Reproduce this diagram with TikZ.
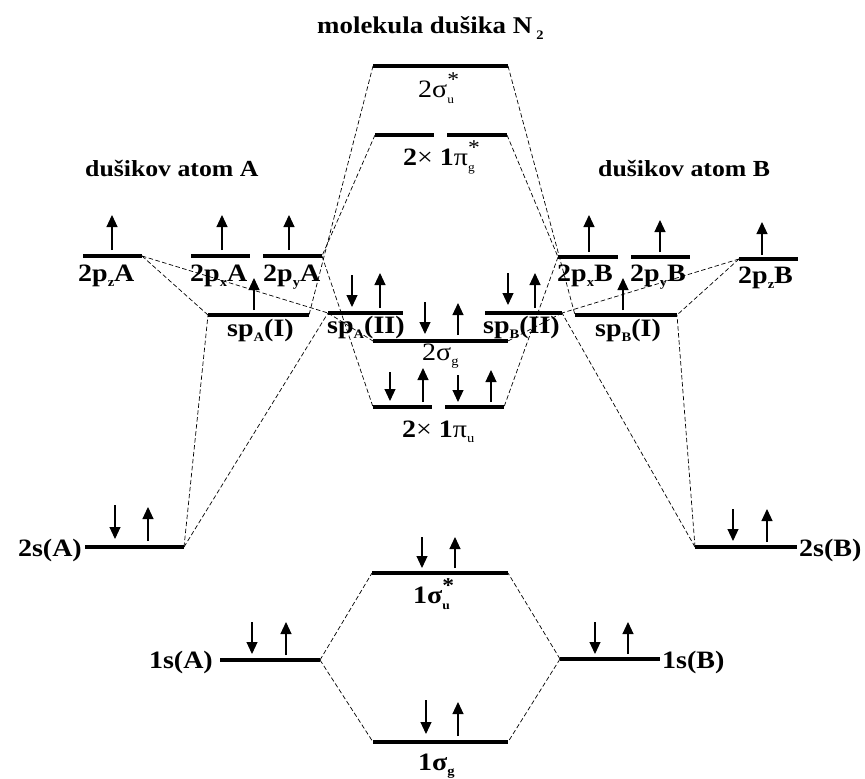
\documentclass[tikz,border=0pt]{standalone}
\usepackage{fontspec}
\setmainfont{Liberation Serif}[FakeStretch=1.12]
\usetikzlibrary{arrows.meta}
\newcommand\mylevel[5]{\coordinate (#1L) at (#2,#4); \coordinate (#1R) at (#3,#4); \draw[#5] (#1L) -- (#1R);}
\newcommand\eup[3]{\draw[el] (#1,#3) -- (#1,#2);}
\newcommand\edn[3]{\draw[el] (#1,#2) -- (#1,#3);}
\newcommand\mysub[1]{\raisebox{-0.22em}{\fontsize{13}{13}\selectfont #1}}
\newcommand\mysupsub[2]{\makebox[0pt][l]{\raisebox{0.42em}{\fontsize{21}{21}\selectfont #1}}\raisebox{-0.25em}{\fontsize{12}{12}\selectfont #2}}
\begin{document}
\begin{tikzpicture}[x=1pt,y=-1pt,
  lev/.style={line width=4.4pt},
  levthin/.style={line width=3.2pt},
  conn/.style={dash pattern=on 4.5pt off 2.5pt, line width=0.7pt},
  el/.style={line width=1.1pt, -{Triangle[width=11pt,length=12pt]}},
  lab/.style={font=\bfseries\fontsize{25}{25}\selectfont, inner sep=0pt, anchor=base west},
  labr/.style={font=\fontsize{25}{25}\selectfont, inner sep=0pt, anchor=base west},
  ttl/.style={font=\bfseries\fontsize{23}{23}\selectfont, inner sep=0pt, anchor=base west}]
\useasboundingbox (0,0) rectangle (865,779);
% levels
\mylevel{sigu2}{373}{508}{66}{lev}
\mylevel{pig1}{375}{434}{135}{lev}
\mylevel{pig2}{447}{507}{135}{lev}
\mylevel{pzA}{83}{142}{256}{lev}
\mylevel{pxA}{191}{250}{256}{lev}
\mylevel{pyA}{263}{322}{256}{lev}
\mylevel{spAI}{208}{309}{315}{lev}
\mylevel{spAII}{328}{403}{313}{lev}
\mylevel{sigg2}{373}{508}{341}{lev}
\mylevel{spBII}{485}{562}{313}{levthin}
\mylevel{pxB}{558}{618}{257}{lev}
\mylevel{pyB}{631}{690}{257}{lev}
\mylevel{pzB}{739}{798}{259}{levthin}
\mylevel{spBI}{575}{677}{315}{lev}
\mylevel{piu1}{373}{432}{407}{lev}
\mylevel{piu2}{445}{504}{407}{lev}
\mylevel{sA}{85}{184}{547}{lev}
\mylevel{sB}{695}{797}{547}{levthin}
\mylevel{sigu1}{372}{508}{573}{lev}
\mylevel{s1A}{220}{320}{660}{lev}
\mylevel{s1B}{560}{660}{659}{levthin}
\mylevel{sigg1}{373}{508}{742}{lev}
% connectors left
\draw[conn] (sigu2L) -- (spAIR);
\draw[conn] (pig1L) -- (pyAR);
\draw[conn] (pyAR) -- (piu1L);
\draw[conn] (pzAR) -- (spAIL);
\draw[conn] (pzAR) -- (spAIIL);
\draw[conn] (sAR) -- (spAIL);
\draw[conn] (sAR) -- (spAIIL);
\draw[conn] (spAIIL) -- (sigg2L);
\draw[conn] (s1AR) -- (sigu1L);
\draw[conn] (s1AR) -- (sigg1L);
% connectors right
\draw[conn] (sigu2R) -- (spBIL);
\draw[conn] (pig2R) -- (pxBL);
\draw[conn] (pxBL) -- (piu2R);
\draw[conn] (pzBL) -- (spBIR);
\draw[conn] (pzBL) -- (spBIIR);
\draw[conn] (sBL) -- (spBIR);
\draw[conn] (sBL) -- (spBIIR);
\draw[conn] (spBIIR) -- (sigg2R);
\draw[conn] (s1BL) -- (sigu1R);
\draw[conn] (s1BL) -- (sigg1R);
% electrons
\eup{112}{215}{250}
\eup{222}{215}{250}
\eup{289}{215}{250}
\eup{254}{278}{310}
\edn{352}{275}{307}
\eup{380}{273}{308}
\edn{425}{302}{334}
\eup{458}{303}{335}
\edn{508}{273}{305}
\eup{535}{273}{308}
\eup{589}{215}{252}
\eup{660}{220}{252}
\eup{762}{222}{255}
\eup{623}{278}{310}
\edn{390}{372}{401}
\eup{423}{368}{402}
\edn{458}{375}{402}
\eup{491}{370}{402}
\edn{422}{537}{568}
\eup{455}{537}{568}
\edn{115}{505}{539}
\eup{148}{507}{541}
\edn{733}{509}{541}
\eup{767}{509}{542}
\edn{252}{622}{654}
\eup{286}{622}{655}
\edn{595}{622}{654}
\eup{628}{622}{654}
\edn{426}{700}{734}
\eup{458}{702}{736}
% titles
\node[ttl, font=\bfseries\fontsize{24}{24}\selectfont] (tmol) at (317,34) {molekula dušika N\,\mysub{2}};
\node[ttl] (tA) at (85,176) {dušikov atom A};
\node[ttl] (tB) at (598,176) {dušikov atom B};
% labels
\node[labr] (lsigu2) at (418,97) {2σ\mysupsub{*}{u}};
\node[labr] (lpig) at (403,165) {\textbf{2}× \textbf{1}π\mysupsub{*}{g}};
\node[lab] (lpzA) at (78,281) {2p\mysub{z}A};
\node[lab] (lpxA) at (190,281) {2p\mysub{x}A};
\node[lab] (lpyA) at (263,281) {2p\mysub{y}A};
\node[lab] (lspAI) at (227,336) {sp\mysub{A}(I)};
\node[lab] (lspAII) at (327,333) {sp\mysub{A}(II)};
\node[labr] (lsigg2) at (422,360) {2σ\mysub{g}};
\node[lab] (lspBII) at (483,333) {sp\mysub{B}(II)};
\node[lab] (lpxB) at (557,281) {2p\mysub{x}B};
\node[lab] (lpyB) at (630,281) {2p\mysub{y}B};
\node[lab] (lpzB) at (738,283) {2p\mysub{z}B};
\node[lab] (lspBI) at (595,336) {sp\mysub{B}(I)};
\node[labr] (lpiu) at (402,437) {\textbf{2}× \textbf{1}π\mysub{u}};
\node[lab, anchor=base east] (lsA) at (82,556) {2s(A)};
\node[lab] (lsB) at (799,556) {2s(B)};
\node[lab] (lsigu1) at (413,603) {1σ\mysupsub{*}{u}};
\node[lab, anchor=base east] (ls1A) at (213,668) {1s(A)};
\node[lab] (ls1B) at (662,668) {1s(B)};
\node[lab] (lsigg1) at (418,770) {1σ\mysub{g}};
\end{tikzpicture}
\end{document}
